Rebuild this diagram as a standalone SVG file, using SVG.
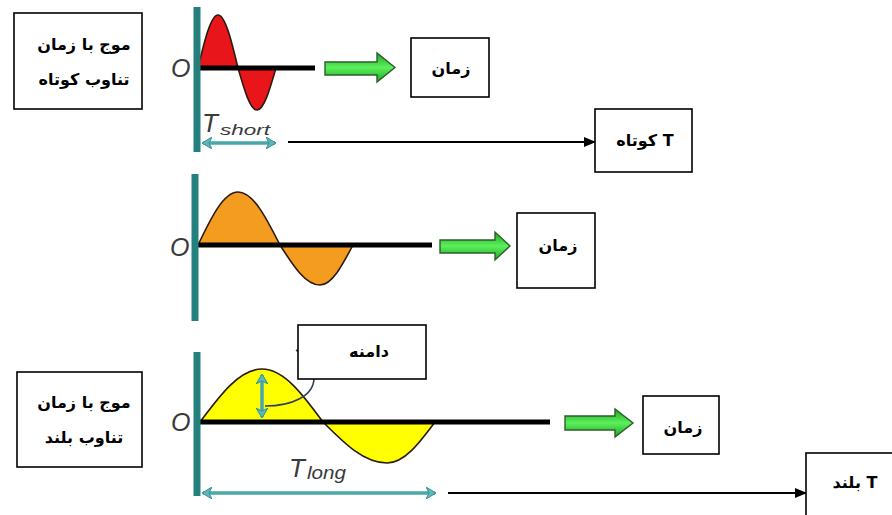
<svg xmlns="http://www.w3.org/2000/svg" width="892" height="515" viewBox="0 0 892 515">
<style>
.box{fill:#fff;stroke:#000;stroke-width:1.6}
.fa{font-family:"DejaVu Sans",sans-serif;font-weight:bold;font-size:16px;fill:#000;text-anchor:middle;direction:rtl}
.axis{stroke:#23807e;stroke-width:7;fill:none}
.base{stroke:#000;stroke-width:5;fill:none}
.wave{stroke:#2a1a10;stroke-width:1.6;stroke-linejoin:round}
.tdim{stroke:#4aa7aa;stroke-width:3.5;fill:none}
.garrow{fill:url(#g);stroke:#2c5e2c;stroke-width:1.4}
.conn{stroke:#000;stroke-width:2;fill:none}
.o{font-family:"Liberation Sans",Arial,sans-serif;font-style:italic;font-size:25px;fill:#3a3a3a}
.tl{font-family:"Liberation Sans",Arial,sans-serif;font-style:italic;fill:#3a3a3a}
</style>
<defs>
<linearGradient id="g" x1="0" y1="0" x2="0" y2="1">
<stop offset="0" stop-color="#1ea51e"/>
<stop offset="0.5" stop-color="#5cf05c"/>
<stop offset="1" stop-color="#1ea51e"/>
</linearGradient>
<marker id="ah" viewBox="0 0 12 10" refX="11" refY="5" markerWidth="12" markerHeight="10" markerUnits="userSpaceOnUse" orient="auto">
<path d="M0,0 L12,5 L0,10 Z" fill="#000"/>
</marker>
<marker id="th" viewBox="0 0 10 12" refX="9" refY="6" markerWidth="10" markerHeight="12" markerUnits="userSpaceOnUse" orient="auto-start-reverse">
<path d="M0,0 L10,6 L0,12 L3,6 Z" fill="#5bb9bc" stroke="#3a8e92" stroke-width="1"/>
</marker>
</defs>

<!-- top wave: short period -->
<g id="wave-short">
<path class="wave" fill="#e8161b" d="M198,68 C204.5,40.9 210.8,15 218,15 C225.2,15 231.5,40.9 238,68 C244.2,89.5 250.1,110 257,110 C263.9,110 269.8,89.5 276,68 Z"/>
<line class="base" x1="198" y1="68" x2="315" y2="68"/>
<line class="axis" x1="197" y1="7" x2="197" y2="152"/>
<text class="o" x="171" y="77">O</text>
<text class="tl" x="202" y="132" font-size="26">T</text>
<text class="tl" x="220" y="135" font-size="15" textLength="50" lengthAdjust="spacingAndGlyphs">short</text>
<line class="tdim" x1="203" y1="143" x2="275" y2="143" marker-start="url(#th)" marker-end="url(#th)"/>
<polygon class="garrow" points="325,62 377,62 377,53 395,67.5 377,82 377,75 325,75"/>
</g>

<!-- middle wave -->
<g id="wave-mid">
<path class="wave" fill="#f39c1f" d="M198,245 C211,217.9 223.5,192 238,192 C253.2,192 266.3,217.9 280,245 C293,265.5 305.5,285 320,285 C331.9,285 342.2,265.5 353,245 Z"/>
<line class="base" x1="198" y1="245" x2="432" y2="245"/>
<line class="axis" x1="195" y1="174" x2="195" y2="321"/>
<text class="o" x="170" y="256">O</text>
<polygon class="garrow" points="440,240 495,240 495,232 510,246 495,260 495,253 440,253"/>
</g>

<!-- bottom wave: long period -->
<g id="wave-long">
<path class="wave" fill="#ffff00" d="M200,422 C220.2,394.9 239.6,369 262,369 C284.1,369 303.1,394.9 323,422 C343.9,443 363.8,463 387,463 C404.4,463 419.4,443 435,422 Z"/>
<line class="base" x1="200" y1="422" x2="550" y2="422"/>
<line class="axis" x1="197" y1="352" x2="197" y2="496"/>
<text class="o" x="171" y="431">O</text>
<line class="tdim" x1="262" y1="375" x2="262" y2="417" marker-start="url(#th)" marker-end="url(#th)"/>
<path d="M265,406 C292,406 314,396 314,378 C314,366 306,356 296,350" fill="none" stroke="#2f3f5f" stroke-width="1.6"/>
<text class="tl" x="289" y="477" font-size="26">T</text>
<text class="tl" x="307" y="479" font-size="18" textLength="39" lengthAdjust="spacingAndGlyphs">long</text>
<line class="tdim" x1="203" y1="493" x2="435" y2="493" marker-start="url(#th)" marker-end="url(#th)"/>
<polygon class="garrow" points="565,416 615,416 615,409 633,423 615,437 615,430 565,430"/>
</g>

<!-- connectors -->
<g id="connectors">
<line class="conn" x1="288" y1="142" x2="595" y2="142" marker-end="url(#ah)"/>
<line class="conn" x1="448" y1="493" x2="806" y2="493" marker-end="url(#ah)"/>
</g>

<!-- nodes -->
<g id="box-short-desc">
<rect class="box" x="14" y="13" width="128" height="96"/>
<text class="fa" x="84" y="50">موج با زمان</text>
<text class="fa" x="84" y="85">تناوب کوتاه</text>
</g>
<g id="box-time-1">
<rect class="box" x="411" y="38" width="78" height="59"/>
<text class="fa" x="451" y="74">زمان</text>
</g>
<g id="box-T-short">
<rect class="box" x="595" y="109" width="97" height="63"/>
<text class="fa" x="645" y="146">T کوتاه</text>
</g>
<g id="box-time-2">
<rect class="box" x="517" y="213" width="78" height="75"/>
<text class="fa" x="558" y="251">زمان</text>
</g>
<g id="box-amplitude">
<rect class="box" x="298" y="325" width="128" height="54"/>
<text class="fa" x="369" y="357">دامنه</text>
</g>
<g id="box-long-desc">
<rect class="box" x="17" y="372" width="125" height="95"/>
<text class="fa" x="84" y="408">موج با زمان</text>
<text class="fa" x="84" y="443">تناوب بلند</text>
</g>
<g id="box-time-3">
<rect class="box" x="643" y="396" width="76" height="58"/>
<text class="fa" x="683" y="433">زمان</text>
</g>
<g id="box-T-long">
<rect class="box" x="806" y="453" width="100" height="70"/>
<text class="fa" x="855" y="488">T بلند</text>
</g>
</svg>
